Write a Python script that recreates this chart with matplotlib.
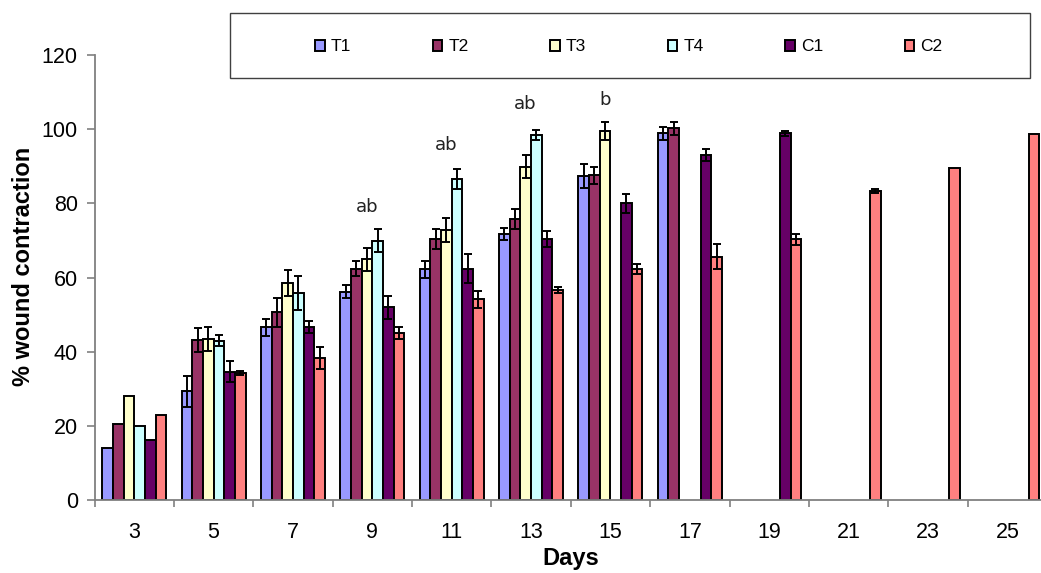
import numpy as np
import matplotlib.pyplot as plt
from matplotlib.patches import Rectangle

nan = np.nan

days = [3, 5, 7, 9, 11, 13, 15, 17, 19, 21, 23, 25]
groups = ["T1", "T2", "T3", "T4", "C1", "C2"]
colors = ["#9999FF", "#993366", "#FFFFCC", "#CCFFFF", "#660066", "#FF8080"]

t1 = [14, 29.3, 46.6, 56.2, 62.2, 71.7, 87.4, 98.9, nan, nan, nan, nan]
t2 = [20.5, 43.1, 50.6, 62.4, 70.3, 75.7, 87.6, 100.2, nan, nan, nan, nan]
t3 = [28, 43.4, 58.4, 64.9, 72.8, 89.9, 99.5, nan, nan, nan, nan, nan]
t4 = [20, 43.0, 55.9, 69.9, 86.6, 98.4, nan, nan, nan, nan, nan, nan]
c1 = [16.1, 34.6, 46.6, 52.0, 62.4, 70.3, 80.0, 93.0, 98.9, nan, nan, nan]
c2 = [22.8, 34.2, 38.2, 45.0, 54.1, 56.6, 62.3, 65.6, 70.3, 83.3, 89.4, 98.6]

t1_err = [nan, 4.1, 2.3, 1.8, 2.3, 1.6, 3.2, 1.8, nan, nan, nan, nan]
t2_err = [nan, 3.2, 4.0, 2.1, 2.7, 2.7, 2.3, 1.7, nan, nan, nan, nan]
t3_err = [nan, 3.2, 3.5, 3.1, 3.3, 3.2, 2.4, nan, nan, nan, nan, nan]
t4_err = [nan, 1.5, 4.6, 3.1, 2.6, 1.4, nan, nan, nan, nan, nan, nan]
c1_err = [nan, 2.8, 1.7, 3.1, 3.9, 2.2, 2.5, 1.7, 0.7, nan, nan, nan]
c2_err = [nan, 0.5, 3.0, 1.7, 2.3, 0.9, 1.4, 3.4, 1.5, 0.6, nan, nan]

# significance letters
sig_days = [9, 11, 13, 15]
sig_text = ["ab", "ab", "ab", "b"]
sig_y = [79, 95.7, 106.7, 108]

values = [t1, t2, t3, t4, c1, c2]
errors = [t1_err, t2_err, t3_err, t4_err, c1_err, c2_err]

plt.rcParams['font.family'] = ['Liberation Sans', 'DejaVu Sans']

fig = plt.figure(figsize=(10.41, 5.73), dpi=100)
ax = fig.add_axes([0.0908, 0.1274, 0.915, 0.7766])

x = np.arange(len(days))
w = 0.1345
for i, (g, col) in enumerate(zip(groups, colors)):
    pos = x + (i - 2.5) * w
    v = np.array(values[i], dtype=float)
    e = np.array(errors[i], dtype=float)
    ax.bar(pos, v, w, color=col, edgecolor="black", linewidth=1.4, label=g, zorder=2)
    ax.errorbar(pos, v, yerr=e, fmt="none", ecolor="black", elinewidth=1.4,
                capsize=3.2, capthick=1.4, zorder=3)

for d, t, y in zip(sig_days, sig_text, sig_y):
    ax.text(days.index(d) - 0.07, y, t, ha="center", va="center",
            fontsize=13, family="DejaVu Sans", color="#222222")

ax.set_xlim(-0.5, len(days) - 0.5)
ax.set_ylim(0, 120)
ax.set_yticks(np.arange(0, 121, 20))
ax.set_xticks(x)
ax.set_xticklabels([str(d) for d in days])
ax.set_xticks(np.arange(-0.5, len(days), 1), minor=True)
ax.tick_params(axis="x", which="major", length=0, pad=16, labelsize=15.5)
ax.tick_params(axis="x", which="minor", length=5, width=1.2, color="#808080")
ax.tick_params(axis="y", length=6, width=1.2, color="#808080", pad=6, labelsize=15.5)

for s in ["top", "right"]:
    ax.spines[s].set_visible(False)
for s in ["left", "bottom"]:
    ax.spines[s].set_color("#808080")
    ax.spines[s].set_linewidth(1.3)

ax.set_xlabel("Days", fontsize=17, fontweight="bold", labelpad=3)
ax.set_ylabel("% wound contraction", fontsize=17, fontweight="bold")
ax.yaxis.set_label_coords(-0.063, 0.524)

# legend box
fig.patches.append(Rectangle((0.221, 0.864), 0.768, 0.113, transform=fig.transFigure,
                             facecolor="white", edgecolor="#404040", linewidth=1.0))
fig.legend(loc="center", bbox_to_anchor=(0.604, 0.918), ncol=6, frameon=False,
           fontsize=12.5, handlelength=0.55, handleheight=0.55, handletextpad=0.35,
           columnspacing=4.7)

fig.savefig("out.png", dpi=100)
